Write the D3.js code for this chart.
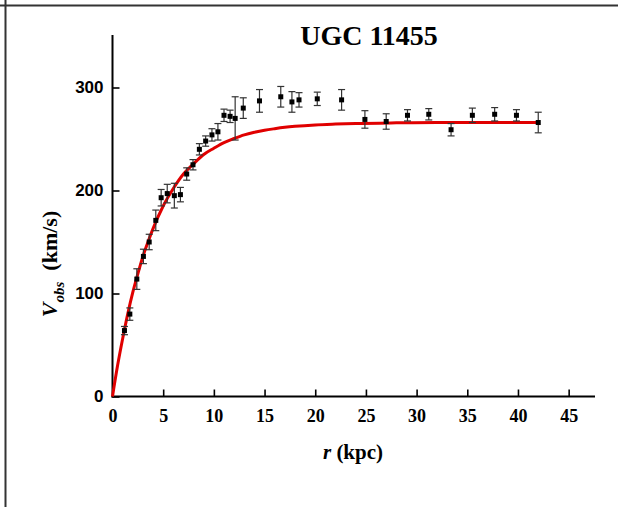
<!DOCTYPE html>
<html>
<head>
<meta charset="utf-8">
<script src="https://cdn.jsdelivr.net/npm/d3@7"></script>
<style>
  html, body { margin: 0; padding: 0; background: #fff; }
  svg { display: block; }
</style>
</head>
<body>
<div id="chart"></div>
<script>
const radius = [1.18, 1.71, 2.40, 3.05, 3.62, 4.27, 4.80, 5.40, 6.10, 6.70,
                7.32, 7.94, 8.57, 9.19, 9.81, 10.4, 11.0, 11.6, 12.1, 12.9,
                14.5, 16.6, 17.7, 18.4, 20.2, 22.6, 24.9, 27.0, 29.1, 31.2,
                33.4, 35.5, 37.7, 39.85, 42.0];
const vObs = [64, 80, 114, 136, 150, 171, 193, 197, 195, 196,
              216, 225, 240, 248, 254, 257, 273, 272, 270, 280,
              287, 291, 286, 288, 289, 288, 269, 267, 273, 274,
              259, 273, 274, 273, 266];
const vErr = [4, 6, 10, 7, 7.5, 10, 8, 9, 12, 7,
              6, 5, 5.5, 5, 6, 8, 6, 6, 21, 10,
              11, 10, 10, 7, 6.5, 10, 8.5, 7.5, 5.5, 5.5,
              6, 7, 6.5, 5.5, 10];

// fitted model curve (red), sampled off the figure
const fitR = [0, 0.5, 1, 1.5, 2, 2.5, 3, 3.5, 4, 5, 6, 7, 8, 9, 10,
              11, 12, 13, 14, 15, 16, 17, 18, 20, 22, 24, 28, 32, 36, 42];
const fitV = [0, 30, 56, 80, 101, 119, 136, 150, 163, 185, 202, 216, 226, 235, 241,
              246.5, 250.5, 254, 256.5, 258.5, 260, 261.3, 262.3, 263.7, 264.5, 265.1, 265.7, 266, 266, 266];

const xTicks = [0, 5, 10, 15, 20, 25, 30, 35, 40, 45];
const yTicks = [0, 100, 200, 300];

const width = 618, height = 507;

const x = d3.scaleLinear().domain([0, 47.5]).range([112.5, 594]);
const y = d3.scaleLinear().domain([0, 350]).range([396.5, 36]);

const svg = d3.select('#chart').append('svg')
    .attr('width', width)
    .attr('height', height);

// page frame
svg.append('line').attr('x1', 0).attr('x2', width).attr('y1', 5.5).attr('y2', 5.5)
    .attr('stroke', '#333').attr('stroke-width', 2);
svg.append('line').attr('x1', 5.5).attr('x2', 5.5).attr('y1', 0).attr('y2', height)
    .attr('stroke', '#333').attr('stroke-width', 2);

// axes
const xMinor = d3.range(0, 47.6, 2.5);
const yMinor = d3.range(0, 351, 50);

const xAxis = svg.append('g').attr('transform', `translate(0,${y(0)})`);
xAxis.call(d3.axisBottom(x).tickValues(xMinor).tickSize(-4).tickFormat(''))
    .call(g => g.select('.domain').remove());
xAxis.call(d3.axisBottom(x).tickValues(xTicks).tickSize(-7).tickPadding(12)
    .tickFormat(d3.format('d')))
    .call(g => g.select('.domain').remove());
xAxis.selectAll('line').attr('stroke', '#000').attr('stroke-width', 1.6);
xAxis.selectAll('text')
    .attr('font-family', '"Liberation Serif", "Times New Roman", serif')
    .attr('font-weight', 'bold').attr('font-size', 18).attr('fill', '#000')
    .attr('dy', '0.75em');
xAxis.append('line').attr('x1', x(0) - 1).attr('x2', x(47.5) + 1)
    .attr('stroke', '#000').attr('stroke-width', 2);

const yAxis = svg.append('g').attr('transform', `translate(${x(0)},0)`);
yAxis.call(d3.axisLeft(y).tickValues(yMinor).tickSize(-4).tickFormat(''))
    .call(g => g.select('.domain').remove());
yAxis.call(d3.axisLeft(y).tickValues(yTicks).tickSize(-7).tickPadding(9)
    .tickFormat(d3.format('d')))
    .call(g => g.select('.domain').remove());
yAxis.selectAll('line').attr('stroke', '#000').attr('stroke-width', 1.6);
yAxis.selectAll('text')
    .attr('font-family', '"Liberation Sans", Arial, sans-serif')
    .attr('font-weight', 'bold').attr('font-size', 17).attr('fill', '#000');
yAxis.append('line').attr('y1', y(0) + 1).attr('y2', y(350) - 1)
    .attr('stroke', '#000').attr('stroke-width', 2);

// fit curve
const fitPts = fitR.map((r, i) => [r, fitV[i]]);
svg.append('path')
    .datum(fitPts)
    .attr('fill', 'none')
    .attr('stroke', '#e00000')
    .attr('stroke-width', 3)
    .attr('d', d3.line().x(d => x(d[0])).y(d => y(d[1])).curve(d3.curveMonotoneX));

// error bars
const pts = radius.map((r, i) => ({ r, v: vObs[i], e: vErr[i] }));
const bars = svg.append('g').attr('stroke', '#333').attr('stroke-width', 1.2);
pts.forEach(p => {
    const cx = x(p.r);
    bars.append('line').attr('x1', cx).attr('x2', cx)
        .attr('y1', y(p.v - p.e)).attr('y2', y(p.v + p.e));
    bars.append('line').attr('x1', cx - 3.5).attr('x2', cx + 3.5)
        .attr('y1', y(p.v - p.e)).attr('y2', y(p.v - p.e));
    bars.append('line').attr('x1', cx - 3.5).attr('x2', cx + 3.5)
        .attr('y1', y(p.v + p.e)).attr('y2', y(p.v + p.e));
});

// markers
svg.append('g').selectAll('rect')
    .data(pts)
    .join('rect')
    .attr('x', d => x(d.r) - 2.5)
    .attr('y', d => y(d.v) - 2.5)
    .attr('width', 5)
    .attr('height', 5)
    .attr('fill', '#000');

// title
svg.append('text')
    .attr('x', 369).attr('y', 45)
    .attr('text-anchor', 'middle')
    .attr('font-family', '"Liberation Serif", "Times New Roman", serif')
    .attr('font-weight', 'bold').attr('font-size', 28)
    .text('UGC 11455');

// x label
const xl = svg.append('text')
    .attr('x', 353).attr('y', 459)
    .attr('text-anchor', 'middle')
    .attr('font-family', '"Liberation Serif", "Times New Roman", serif')
    .attr('font-weight', 'bold').attr('font-size', 21);
xl.append('tspan').attr('font-style', 'italic').text('r');
xl.append('tspan').text(' (kpc)');

// y label
const yl = svg.append('text')
    .attr('transform', 'translate(57,264) rotate(-90)')
    .attr('text-anchor', 'middle')
    .attr('font-family', '"Liberation Serif", "Times New Roman", serif')
    .attr('font-weight', 'bold').attr('font-size', 22);
yl.append('tspan').attr('font-style', 'italic').text('V');
yl.append('tspan').attr('font-style', 'italic').attr('font-size', 15)
    .attr('dy', 7).text('obs');
yl.append('tspan').attr('dy', -7).text('\u00a0 (km/s)');
</script>
</body>
</html>
